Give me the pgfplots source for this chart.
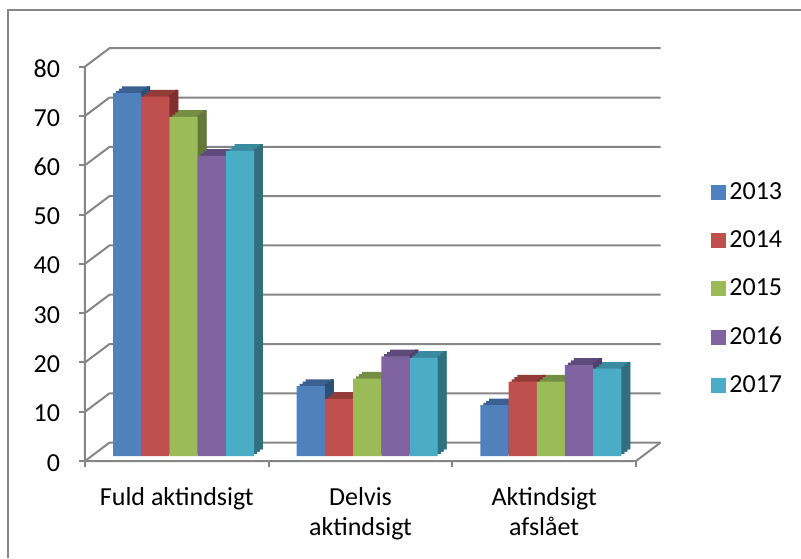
\documentclass[border=0pt]{standalone}
\usepackage{pgfplots}
\pgfplotsset{compat=1.18}
\usepackage{fontspec}
\setmainfont{Carlito}

% Excel 2007 palette: front / top / side
\definecolor{bA}{HTML}{4F81BD}\definecolor{bT}{HTML}{3A6191}\definecolor{bS}{HTML}{2E5077}
\definecolor{rA}{HTML}{C0504D}\definecolor{rT}{HTML}{923B39}\definecolor{rS}{HTML}{7F2F2D}
\definecolor{gA}{HTML}{9BBB59}\definecolor{gT}{HTML}{758E43}\definecolor{gS}{HTML}{637838}
\definecolor{pA}{HTML}{8064A2}\definecolor{pT}{HTML}{5F4A7C}\definecolor{pS}{HTML}{4F3E67}
\definecolor{cA}{HTML}{4BACC6}\definecolor{cT}{HTML}{3A8BA0}\definecolor{cS}{HTML}{326E7E}
\definecolor{gridc}{HTML}{868686}

\pgfplotstableread{
cat y13 y14 y15 y16 y17
0 73.6 72.9 68.8 60.9 61.9
1 14.2 11.6 15.7 20.2 19.9
2 10.3 15.1 15.1 18.5 17.7
}\datatable

\tikzset{
  front/.style={shift={(-3.35pt,-2.5pt)}},
  back/.style={shift={(8.9pt,6.7pt)}},
}

% one series as pseudo-3D bars: #1 column, #2 front, #3 top, #4 side, #5 bar shift (pt)
\newcommand{\barthreed}[5]{%
  \addplot[forget plot, fill=#3, draw=none, bar shift={#5pt+1.467pt}, yshift=1.117pt] table[x=cat,y=#1] {\datatable};
  \addplot[forget plot, fill=#3, draw=none, bar shift={#5pt+2.933pt}, yshift=2.233pt] table[x=cat,y=#1] {\datatable};
  \addplot[forget plot, fill=#3, draw=none, bar shift={#5pt+4.4pt}, yshift=3.35pt] table[x=cat,y=#1] {\datatable};
  \addplot[forget plot, fill=#4, draw=none, bar width=1.6pt, bar shift={#5pt+7.783pt}, yshift=1.117pt] table[x=cat,y=#1] {\datatable};
  \addplot[forget plot, fill=#4, draw=none, bar width=1.6pt, bar shift={#5pt+9.25pt}, yshift=2.233pt] table[x=cat,y=#1] {\datatable};
  \addplot[forget plot, fill=#4, draw=none, bar width=1.6pt, bar shift={#5pt+10.717pt}, yshift=3.35pt] table[x=cat,y=#1] {\datatable};
  \addplot[fill=#2, draw=none, bar shift={#5pt}] table[x=cat,y=#1] {\datatable};
}

\begin{document}
\begin{tikzpicture}
\useasboundingbox (0,0) rectangle (400.5pt,279pt);
\draw[gridc, line width=1pt] (4pt,0) -- (4pt,274pt) -- (400.5pt,274pt);
\begin{axis}[
    at={(45.85pt,51pt)}, anchor=south west,
    scale only axis,
    width=275.5pt, height=197.2pt,
    xmin=-0.5, xmax=2.5, ymin=0, ymax=80,
    clip=false,
    ybar=0pt, bar width=14.1pt,
    axis line style={draw=none},
    major tick length=0pt,
    xtick={0,1,2},
    xticklabels={Fuld aktindsigt, Delvis\\aktindsigt, Aktindsigt\\afslået},
    xticklabel style={align=center, anchor=north, inner sep=0pt, xshift=-3.35pt, yshift=-15.3pt},
    ytick={0,10,...,80},
    yticklabel style={anchor=east, inner sep=0pt, xshift=-15.6pt, yshift=-3.4pt},
    /pgf/number format/assume math mode=true,
    tick label style={font=\fontsize{13}{15}\selectfont},
    every axis plot post/.append style={
        legend image code/.code={\fill[##1] (0pt,-3.75pt) rectangle (7.5pt,3.75pt);}},
    legend style={at={(1.124,0.703)}, anchor=north west, draw=none, fill=none,
        inner sep=0pt, row sep=11.2pt, font=\fontsize{13}{15}\selectfont,
        nodes={inner sep=1.5pt}},
    legend cell align=left,
]
% walls
\pgfplotsinvokeforeach{0,10,...,80}{
  \draw[gridc, line width=1pt] ([front]axis cs:-0.5,#1) -- ([back]axis cs:-0.5,#1) -- ([back]axis cs:2.5,#1);
  \draw[gridc, line width=1pt] ([front]axis cs:-0.5,#1) -- ([front,xshift=-3pt]axis cs:-0.5,#1);
}
\draw[gridc, line width=1pt] ([front]axis cs:-0.5,80) -- ([front]axis cs:-0.5,0) -- ([front]axis cs:2.5,0) -- ([back]axis cs:2.5,0);
\pgfplotsinvokeforeach{-0.5,0.5,1.5,2.5}{
  \draw[gridc, line width=1pt] ([front]axis cs:#1,0) -- ([front,yshift=-3pt]axis cs:#1,0);
}
\barthreed{y13}{bA}{bT}{bS}{-28.2}
\barthreed{y14}{rA}{rT}{rS}{-14.1}
\barthreed{y15}{gA}{gT}{gS}{0}
\barthreed{y16}{pA}{pT}{pS}{14.1}
\barthreed{y17}{cA}{cT}{cS}{28.2}
\legend{2013,2014,2015,2016,2017}
\end{axis}
\end{tikzpicture}
\end{document}
